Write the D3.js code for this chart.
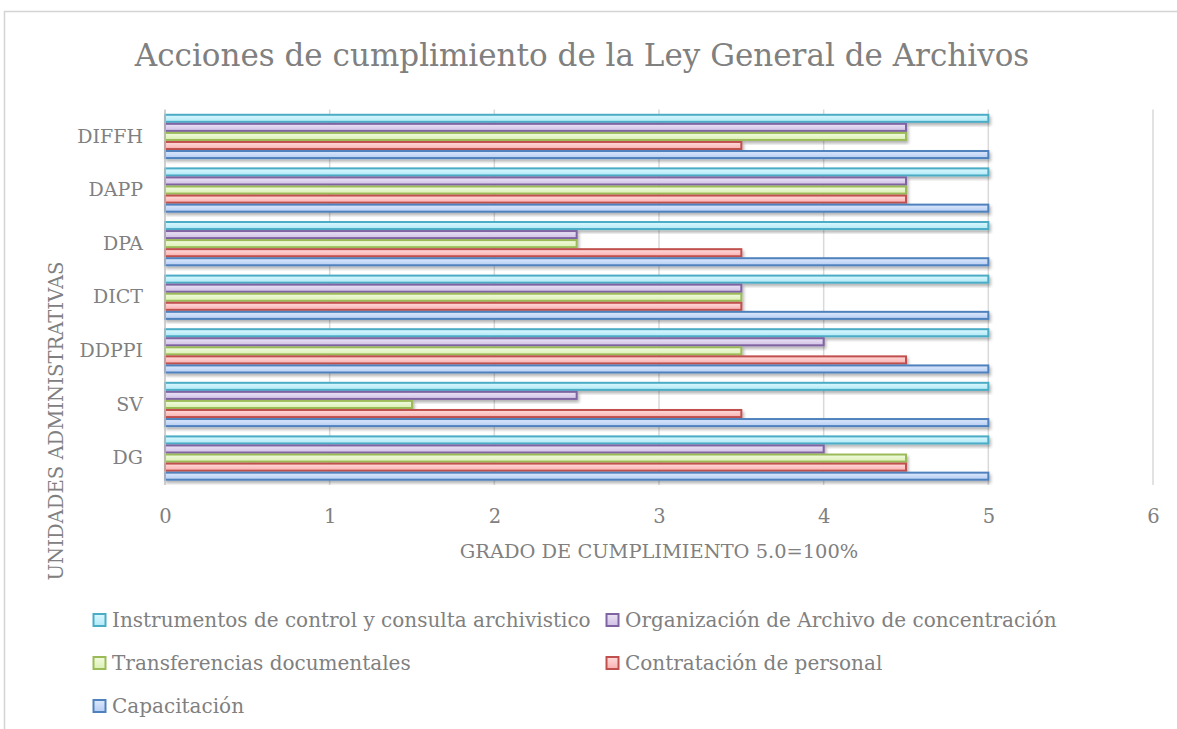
<!DOCTYPE html>
<html>
<head>
<meta charset="utf-8">
<script src="https://cdn.jsdelivr.net/npm/d3@7"></script>
<style>
  body { margin: 0; background: #fff; }
  text { font-family: "DejaVu Serif", serif; fill: #808080; }
</style>
</head>
<body>
<script>
// data
const units = ["DIFFH", "DAPP", "DPA", "DICT", "DDPPI", "SV", "DG"];
const seriesNames = [
    "Instrumentos de control y consulta archivistico",
    "Organización de Archivo de concentración",
    "Transferencias documentales",
    "Contratación de personal",
    "Capacitación"
];
const instrumentos   = [5, 5, 5, 5, 5, 5, 5];
const organizacion   = [4.5, 4.5, 2.5, 3.5, 4, 2.5, 4];
const transferencias = [4.5, 4.5, 2.5, 3.5, 3.5, 1.5, 4.5];
const contratacion   = [3.5, 4.5, 3.5, 3.5, 4.5, 3.5, 4.5];
const capacitacion   = [5, 5, 5, 5, 5, 5, 5];
const xTicks = [0, 1, 2, 3, 4, 5, 6];

const seriesValues = [instrumentos, organizacion, transferencias, contratacion, capacitacion];
const strokes = ["#4bacc6", "#8064a2", "#9bbb59", "#c0504d", "#4f81bd"];
const fillTop = ["#dcf8fe", "#ece4f6", "#f2fbe0", "#ffdcdc", "#dde9fc"];
const fillBot = ["#b0e9f6", "#cfc0e5", "#dbf0b4", "#f9b0b0", "#b6cdf3"];

const width = 1177, height = 729;
const plot = { left: 165, right: 1153, top: 109.5, bottom: 485 };

let svg = d3.select("body")
    .append("svg")
    .attr("width", width)
    .attr("height", height);

let defs = svg.append("defs");

// soft shadow under the bars
defs.append("filter")
    .attr("id", "shadow")
    .attr("x", "-5%").attr("y", "-50%")
    .attr("width", "110%").attr("height", "220%")
    .append("feDropShadow")
    .attr("dx", 1.5).attr("dy", 2.5)
    .attr("stdDeviation", 1.5)
    .attr("flood-color", "#000")
    .attr("flood-opacity", 0.3);

seriesNames.forEach((s, i) => {
    let g = defs.append("linearGradient")
        .attr("id", "grad" + i)
        .attr("x1", 0).attr("y1", 0).attr("x2", 0).attr("y2", 1);
    g.append("stop").attr("offset", "0%").attr("stop-color", fillTop[i]);
    g.append("stop").attr("offset", "100%").attr("stop-color", fillBot[i]);
});

// chart frame (cut off at right and bottom)
svg.append("rect")
    .attr("x", 4.5).attr("y", 11.5)
    .attr("width", 1300).attr("height", 1000)
    .attr("fill", "none")
    .attr("stroke", "#d4d4d4")
    .attr("stroke-width", 1.5);

//title
svg.append("text")
    .attr("x", 582)
    .attr("y", 66)
    .style("text-anchor", "middle")
    .style("font-size", "31px")
    .text("Acciones de cumplimiento de la Ley General de Archivos");

let x = d3.scaleLinear()
    .domain([0, 6])
    .range([plot.left, plot.right]);

let y = d3.scaleBand()
    .domain(units)
    .range([plot.top, plot.bottom])
    .paddingInner(0.155)
    .paddingOuter(0.08);

let ySub = d3.scaleBand()
    .domain(d3.range(seriesNames.length))
    .range([0, y.bandwidth()]);

//gridlines
svg.append("g")
    .selectAll("line")
    .data(xTicks.slice(1))
    .enter()
    .append("line")
    .attr("x1", d => x(d)).attr("x2", d => x(d))
    .attr("y1", plot.top).attr("y2", plot.bottom)
    .attr("stroke", "#d9d9d9")
    .attr("stroke-width", 1.5);

//bars
let rows = svg.append("g")
    .selectAll("g")
    .data(units)
    .enter()
    .append("g")
    .attr("transform", d => `translate(0, ${y(d)})`);

rows.selectAll("rect")
    .data((d, j) => seriesValues.map((vals, i) => ({ i: i, v: vals[j] })))
    .enter()
    .append("rect")
    .attr("x", x(0))
    .attr("y", d => ySub(d.i) + 1)
    .attr("width", d => x(d.v) - x(0))
    .attr("height", ySub.bandwidth() - 2)
    .attr("fill", d => `url(#grad${d.i})`)
    .attr("stroke", d => strokes[d.i])
    .attr("stroke-width", 2)
    .attr("filter", "url(#shadow)");

//value axis line at 0
svg.append("line")
    .attr("x1", x(0)).attr("x2", x(0))
    .attr("y1", plot.top).attr("y2", plot.bottom)
    .attr("stroke", "#bfbfbf")
    .attr("stroke-width", 1.5);

//x axis
let xAxis = svg.append("g")
    .attr("transform", `translate(0, ${plot.bottom})`)
    .call(d3.axisBottom(x).tickValues(xTicks).tickFormat(d3.format("d")).tickSize(0).tickPadding(24));
xAxis.select(".domain").remove();
xAxis.selectAll("text")
    .style("font-size", "19.5px")
    .attr("fill", "#808080");

//y axis
let yAxis = svg.append("g")
    .attr("transform", `translate(${plot.left}, 0)`)
    .call(d3.axisLeft(y).tickSize(0).tickPadding(22));
yAxis.select(".domain").remove();
yAxis.selectAll("text")
    .style("font-size", "19px")
    .attr("fill", "#808080");

//axis titles
svg.append("text")
    .attr("x", (plot.left + plot.right) / 2)
    .attr("y", 558)
    .style("text-anchor", "middle")
    .style("font-size", "19.4px")
    .text("GRADO DE CUMPLIMIENTO 5.0=100%");

svg.append("text")
    .attr("transform", "translate(63, 421) rotate(-90)")
    .style("text-anchor", "middle")
    .style("font-size", "19.6px")
    .text("UNIDADES ADMINISTRATIVAS");

//legend, two columns
const legendCols = [93, 606];
const legendRows = [620, 663, 706];
let legend = svg.append("g")
    .selectAll("g")
    .data(seriesNames)
    .enter()
    .append("g")
    .attr("transform", (d, i) => `translate(${legendCols[i % 2]}, ${legendRows[Math.floor(i / 2)]})`);

legend.append("rect")
    .attr("x", 0.5).attr("y", -6)
    .attr("width", 12).attr("height", 12)
    .attr("fill", (d, i) => `url(#grad${i})`)
    .attr("stroke", (d, i) => strokes[i])
    .attr("stroke-width", 2);

legend.append("text")
    .attr("x", 19)
    .attr("y", 7)
    .style("font-size", "20px")
    .text(d => d);
</script>
</body>
</html>
